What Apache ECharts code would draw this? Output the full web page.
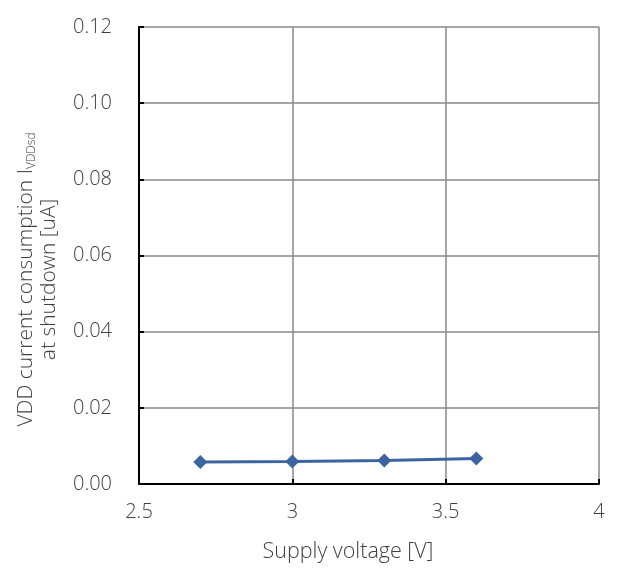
<!DOCTYPE html>
<html><head><meta charset="utf-8">
<script src="https://cdn.jsdelivr.net/npm/echarts@6/dist/echarts.min.js"></script>
<style>html,body{margin:0;padding:0;background:#fff}#c{width:624px;height:569px}</style>
</head><body><div id="c"></div>
<script>
const voltages = [2.7, 3.0, 3.3, 3.6];
const currents = [0.0058, 0.0059, 0.0062, 0.0067];
const xTitle = 'Supply voltage [V]';
const yTitleLine1 = 'VDD current consumption I';
const yTitleSub = 'VDDsd';
const yTitleLine2 = 'at shutdown [uA]';

const font = "'Open Sans', sans-serif";
const fw = 300;
const txt = '#404040';
const chart = echarts.init(document.getElementById('c'));
chart.setOption({
  animation: false,
  grid: {left: 139, right: 25, top: 27, bottom: 85, outerBoundsMode: 'none', containLabel: false},
  xAxis: {
    type: 'value', min: 2.5, max: 4, interval: 0.5,
    name: xTitle, nameLocation: 'middle', nameGap: 57,
    nameTextStyle: {fontFamily: font, fontWeight: fw, fontSize: 21.5, color: txt, padding: [0, 42, 0, 0]},
    axisLine: {show: true, onZero: false, lineStyle: {color: '#000', width: 2}},
    axisTick: {show: true, inside: true, length: 5, lineStyle: {color: '#000', width: 2}},
    axisLabel: {fontFamily: font, fontWeight: fw, fontSize: 20, color: txt, margin: 18},
    splitLine: {show: true, lineStyle: {color: '#888', width: 1.5}}
  },
  yAxis: {
    type: 'value', min: 0, max: 0.12, interval: 0.02,
    name: '{a|' + yTitleLine1 + '}{s|' + yTitleSub + '}\n{a|' + yTitleLine2 + '}',
    nameLocation: 'middle', nameGap: 78, nameRotate: 90,
    nameTextStyle: {
      align: 'center',
      padding: [0, 48, 0, 0],
      rich: {
        a: {fontFamily: font, fontWeight: fw, fontSize: 21, color: txt, lineHeight: 23},
        s: {fontFamily: font, fontWeight: fw, fontSize: 12, color: txt, lineHeight: 23, verticalAlign: 'bottom', padding: [8,0,0,0]}
      }
    },
    axisLine: {show: true, lineStyle: {color: '#000', width: 2}},
    axisTick: {show: true, inside: true, length: 5, lineStyle: {color: '#000', width: 2}},
    axisLabel: {fontFamily: font, fontWeight: fw, fontSize: 20, color: txt, margin: 27, formatter: v => v.toFixed(2)},
    splitLine: {show: true, lineStyle: {color: '#888', width: 1.5}}
  },
  series: [{
    type: 'line',
    data: voltages.map((v, i) => [v, currents[i]]),
    symbol: 'diamond', symbolSize: 14,
    lineStyle: {color: '#3c64a0', width: 3},
    itemStyle: {color: '#3c64a0'}
  }]
});
</script></body></html>
